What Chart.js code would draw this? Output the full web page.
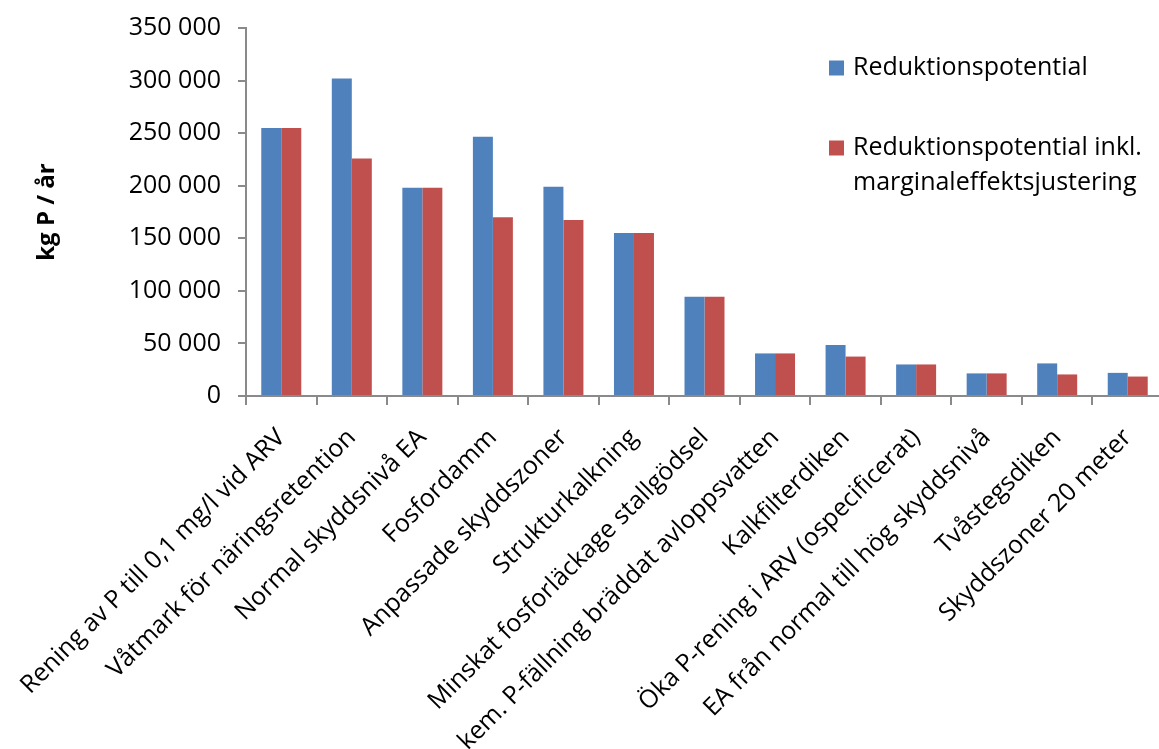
<!DOCTYPE html>
<html lang="sv">
<head>
<meta charset="utf-8">
<script src="https://cdn.jsdelivr.net/npm/chart.js@4.4.1/dist/chart.umd.min.js"></script>
<style>
  html, body { margin: 0; padding: 0; background: #fff; overflow: hidden; }
  #wrap { position: absolute; left: 0; top: 0; width: 1164px; height: 749px; }
</style>
</head>
<body>
<div id="wrap"><canvas id="c" width="1164" height="749"></canvas></div>
<script>
// Åtgärder (kategorier)
const categories = [
  'Rening av P till 0,1 mg/l vid ARV',
  'Våtmark för näringsretention',
  'Normal skyddsnivå EA',
  'Fosfordamm',
  'Anpassade skyddszoner',
  'Strukturkalkning',
  'Minskat fosforläckage stallgödsel',
  'kem. P-fällning bräddat avloppsvatten',
  'Kalkfilterdiken',
  'Öka P-rening i ARV (ospecificerat)',
  'EA från normal till hög skyddsnivå',
  'Tvåstegsdiken',
  'Skyddszoner 20 meter'
];

// Serienamn
const seriesNames = [
  'Reduktionspotential',
  'Reduktionspotential inkl. marginaleffektsjustering'
];

// kg P / år
const reduktion = [255000, 302000, 198000, 246500, 199000, 155000, 94500, 40500, 48500, 30000, 21500, 31000, 22000];
const reduktionMarginal = [255000, 226000, 198000, 170000, 167500, 155000, 94500, 40500, 37500, 30000, 21500, 20500, 18500];

// Y-axelns skala
const yMin = 0;
const yMax = 350000;
const yStep = 50000;
const yTitle = 'kg P / år';

const FONT = '"Open Sans", "DejaVu Sans", sans-serif';
const AXIS = '#8a8a8a';

function formatTal(v) {
  return String(v).replace(/\B(?=(\d{3})+(?!\d))/g, ' ');
}

// Förklaring placerad uppe till höger, med radbrytning av långa namn
const legendPlugin = {
  id: 'sideLegend',
  afterDraw(chart) {
    const ctx = chart.ctx;
    const x0 = 829, box = 15, textX = 853, maxW = 300, lineH = 35;
    const rowY = [68, 148];
    ctx.save();
    ctx.font = '25px ' + FONT;
    ctx.textBaseline = 'middle';
    ctx.textAlign = 'left';
    chart.data.datasets.forEach((ds, i) => {
      const y = rowY[i];
      ctx.fillStyle = ds.backgroundColor;
      ctx.fillRect(x0, y - box / 2, box, box);
      const words = ds.label.split(' ');
      const lines = [];
      let cur = '';
      words.forEach(w => {
        const t = cur ? cur + ' ' + w : w;
        if (ctx.measureText(t).width > maxW && cur) { lines.push(cur); cur = w; }
        else cur = t;
      });
      lines.push(cur);
      ctx.fillStyle = '#000';
      lines.forEach((ln, k) => ctx.fillText(ln, textX, y + k * lineH));
    });
    ctx.restore();
  }
};

new Chart(document.getElementById('c'), {
  type: 'bar',
  data: {
    labels: categories,
    datasets: [
      { label: seriesNames[0], data: reduktion, backgroundColor: '#4F81BD' },
      { label: seriesNames[1], data: reduktionMarginal, backgroundColor: '#C0504D' }
    ]
  },
  options: {
    responsive: false,
    animation: false,
    devicePixelRatio: 1,
    layout: { padding: { top: 28, right: 1, left: 0, bottom: 0 } },
    datasets: { bar: { barPercentage: 1.0, categoryPercentage: 0.567 } },
    plugins: {
      legend: { display: false },
      tooltip: { enabled: false }
    },
    scales: {
      x: {
        offset: true,
        grid: {
          offset: true,
          drawOnChartArea: false,
          drawTicks: true,
          tickLength: 9,
          tickColor: AXIS,
          lineWidth: 2
        },
        border: { display: true, color: AXIS, width: 2 },
        ticks: {
          autoSkip: false,
          maxRotation: 45,
          minRotation: 45,
          padding: 18,
          color: '#000',
          font: { family: FONT, size: 25 }
        },
        afterFit(scale) {
          scale.height = 353;
          scale.paddingLeft = 0;
          scale.paddingRight = 0;
        }
      },
      y: {
        min: yMin,
        max: yMax,
        grid: {
          drawOnChartArea: false,
          drawTicks: true,
          tickLength: 8,
          tickColor: AXIS,
          lineWidth: 2
        },
        border: { display: true, color: AXIS, width: 2 },
        ticks: {
          stepSize: yStep,
          padding: 17,
          color: '#000',
          font: { family: FONT, size: 25 },
          callback: v => formatTal(v)
        },
        title: {
          display: true,
          text: yTitle,
          color: '#000',
          font: { family: FONT, size: 24, weight: 'bold' },
          padding: { top: 33, bottom: 0 }
        },
        afterFit(scale) {
          scale.width = 246;
          scale.paddingTop = 0;
          scale.paddingBottom = 0;
        }
      }
    }
  },
  plugins: [legendPlugin]
});
</script>
</body>
</html>
